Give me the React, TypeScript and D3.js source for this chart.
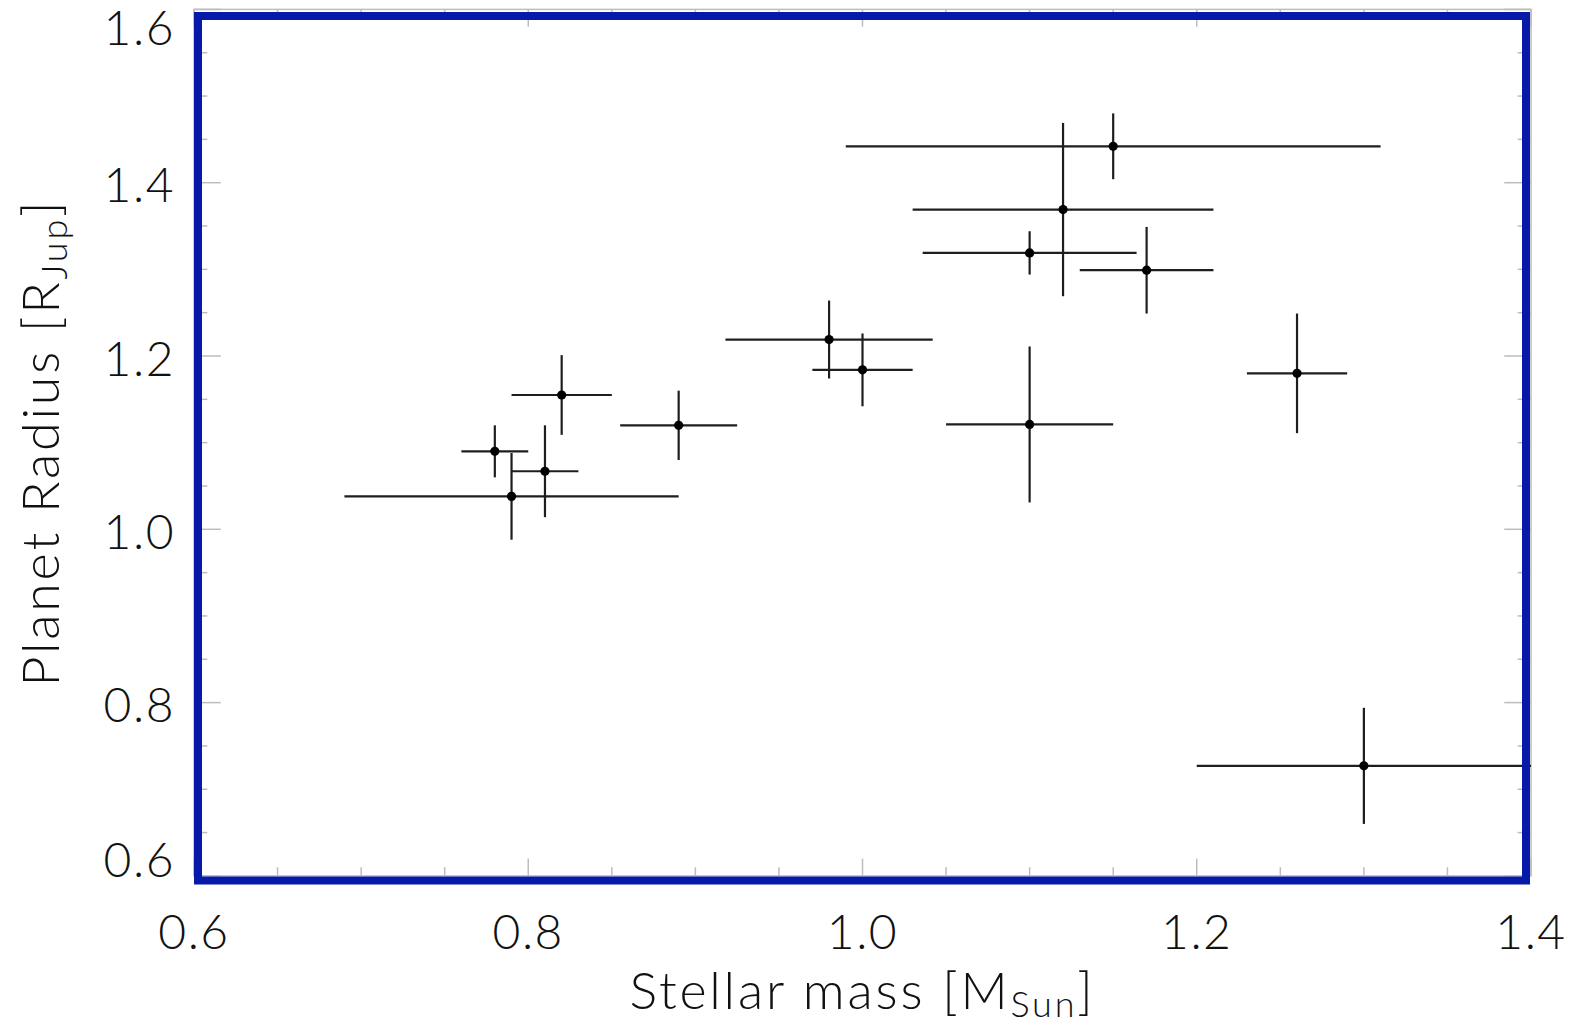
import React from "react";
import * as d3 from "d3";

// Stellar mass [M_Sun] and planet radius [R_Jup], with symmetric 1-sigma errors
const stellarMass = [1.15, 1.12, 1.10, 1.17, 0.98, 1.00, 1.10, 1.26, 0.82, 0.89, 0.78, 0.81, 0.79, 1.30];
const stellarMassErr = [0.16, 0.09, 0.064, 0.04, 0.062, 0.03, 0.05, 0.03, 0.03, 0.035, 0.02, 0.02, 0.10, 0.10];
const planetRadius = [1.442, 1.369, 1.319, 1.299, 1.219, 1.184, 1.121, 1.180, 1.155, 1.120, 1.090, 1.067, 1.038, 0.727];
const planetRadiusErr = [0.038, 0.10, 0.025, 0.05, 0.045, 0.042, 0.09, 0.069, 0.046, 0.04, 0.03, 0.053, 0.05, 0.067];

const xTickValues = [0.6, 0.8, 1.0, 1.2, 1.4];
const yTickValues = [0.6, 0.8, 1.0, 1.2, 1.4, 1.6];
const xDomain = [0.6, 1.4];
const yDomain = [0.6, 1.6];

const W = 1581;
const H = 1026;
const LEFT = 194;
const RIGHT = 1531;
const TOP = 9.4;
const BOTTOM = 875.9;

const FONT = "Lato, 'DejaVu Sans', sans-serif";

export default function App() {
  const x = d3.scaleLinear().domain(xDomain).range([LEFT, RIGHT]);
  const y = d3.scaleLinear().domain(yDomain).range([BOTTOM, TOP]);

  const xMinor = d3.range(0.6, 1.4001, 0.05);
  const yMinor = d3.range(0.6, 1.6001, 0.05);
  const isMajor = (v: number) => Math.abs(v * 5 - Math.round(v * 5)) < 1e-6;

  const xMajLen = 0.02 * (BOTTOM - TOP);
  const yMajLen = 0.02 * (RIGHT - LEFT);

  const pts = stellarMass.map((m, i) => ({
    m,
    me: stellarMassErr[i],
    r: planetRadius[i],
    re: planetRadiusErr[i],
  }));

  const tickColor = "#bdbdbd";
  const barColor = "#1e1e1e";

  return (
    <svg
      width={W}
      height={H}
      style={{ position: "absolute", left: 0, top: 0, background: "#fff" }}
    >
      <rect x={0} y={0} width={W} height={H} fill="#fff" />
      {/* IDL-like thin axes box */}
      <rect
        x={LEFT}
        y={TOP}
        width={RIGHT - LEFT}
        height={BOTTOM - TOP}
        fill="none"
        stroke={tickColor}
        strokeWidth={1.5}
      />
      {/* x ticks (bottom & top) */}
      {xMinor.map((v, i) => {
        const len = isMajor(v) ? xMajLen : xMajLen / 2;
        return (
          <g key={"xt" + i} stroke={tickColor} strokeWidth={1.5}>
            <line x1={x(v)} x2={x(v)} y1={BOTTOM} y2={BOTTOM - len} />
            <line x1={x(v)} x2={x(v)} y1={TOP} y2={TOP + len} />
          </g>
        );
      })}
      {/* y ticks (left & right) */}
      {yMinor.map((v, i) => {
        const len = isMajor(v) ? yMajLen : yMajLen / 2;
        return (
          <g key={"yt" + i} stroke={tickColor} strokeWidth={1.5}>
            <line x1={LEFT} x2={LEFT + len} y1={y(v)} y2={y(v)} />
            <line x1={RIGHT} x2={RIGHT - len} y1={y(v)} y2={y(v)} />
          </g>
        );
      })}

      {/* error bars */}
      <g stroke={barColor} strokeWidth={2.2}>
        {pts.map((p, i) => (
          <g key={"eb" + i}>
            <line
              x1={x(Math.max(xDomain[0], p.m - p.me))}
              x2={x(Math.min(xDomain[1], p.m + p.me))}
              y1={y(p.r)}
              y2={y(p.r)}
            />
            <line
              x1={x(p.m)}
              x2={x(p.m)}
              y1={y(p.r - p.re)}
              y2={y(p.r + p.re)}
            />
          </g>
        ))}
      </g>
      {/* points */}
      <g fill="#000">
        {pts.map((p, i) => (
          <circle key={"pt" + i} cx={x(p.m)} cy={y(p.r)} r={4.6} />
        ))}
      </g>

      {/* blue frame */}
      <rect
        x={LEFT + 4}
        y={TOP + 6.6}
        width={RIGHT - LEFT - 9}
        height={BOTTOM - TOP - 4 + 6.6 - 6.6 - 4 + 6}
        fill="none"
        stroke="#0619a8"
        strokeWidth={8}
      />

      {/* tick labels */}
      <g fontFamily={FONT} fontWeight={300} fontSize={48} letterSpacing={1.5} fill="#111">
        {xTickValues.map((v) => (
          <text key={"xl" + v} x={x(v)} y={949} textAnchor="middle">
            {d3.format(".1f")(v)}
          </text>
        ))}
        {yTickValues.map((v) => (
          <text
            key={"yl" + v}
            x={175}
            y={Math.min(877, Math.max(45, y(v) + 19.5))}
            textAnchor="end"
          >
            {d3.format(".1f")(v)}
          </text>
        ))}
      </g>

      {/* axis titles */}
      <text
        x={(LEFT + RIGHT) / 2}
        y={1009}
        textAnchor="middle"
        fontFamily={FONT}
        fontWeight={300}
        fontSize={52}
        letterSpacing={2.8}
        fill="#111"
      >
        Stellar mass [M
        <tspan fontSize={36} dy={8}>Sun</tspan>
        <tspan dy={-8}>]</tspan>
      </text>
      <text
        transform={`translate(58.5, ${(TOP + BOTTOM) / 2}) rotate(-90)`}
        textAnchor="middle"
        fontFamily={FONT}
        fontWeight={300}
        fontSize={52}
        letterSpacing={2.8}
        fill="#111"
      >
        Planet Radius [R
        <tspan fontSize={36} dy={8}>Jup</tspan>
        <tspan dy={-8}>]</tspan>
      </text>
    </svg>
  );
}
